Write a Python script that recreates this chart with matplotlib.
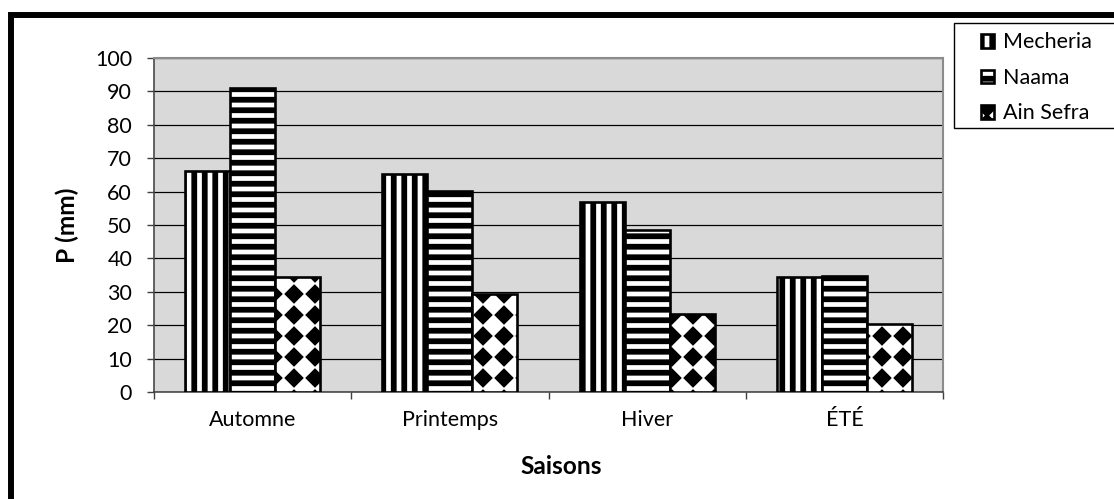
import numpy as np
import matplotlib
matplotlib.use('Agg')
import matplotlib.pyplot as plt
import matplotlib.hatch as mhatch
from matplotlib.path import Path
from matplotlib.patches import Rectangle
from matplotlib.ticker import FixedLocator, NullFormatter, FixedFormatter

# ---------------- data ----------------
categories = ['Automne', 'Printemps', 'Hiver', 'ÉTÉ']
series_names = ['Mecheria', 'Naama', 'Ain Sefra']
mecheria = [66.2, 65.2, 57.0, 34.5]
naama = [91.1, 60.1, 48.6, 34.6]
ain_sefra = [34.3, 29.2, 23.3, 20.4]
yticks = list(range(0, 101, 10))
ylabel = 'P (mm)'
xlabel = 'Saisons'


# ---------------- custom diamond hatch (replaces '*') ----------------
class DiamondGrid(mhatch.HatchPatternBase):
    def __init__(self, hatch, density):
        self.n = int(hatch.count('*') * density)
        self.num_vertices = 5 * (self.n + 1) ** 2 if self.n else 0

    def set_vertices_and_codes(self, vertices, codes):
        n = self.n
        r = 0.068
        shape = np.array([[0, -r], [r, 0], [0, r], [-r, 0], [0, -r]])
        scodes = np.array([Path.MOVETO, Path.LINETO, Path.LINETO,
                           Path.LINETO, Path.CLOSEPOLY], dtype=Path.code_type)
        parts = []
        for i in range(n + 1):
            for j in range(n + 1):
                parts.append(shape + [i / n, j / n])
        vertices[:] = np.concatenate(parts)
        codes[:] = np.tile(scodes, (n + 1) ** 2)


mhatch._hatch_types = [DiamondGrid if c is mhatch.Stars else c
                       for c in mhatch._hatch_types]

# ---------------- figure ----------------
DPI = 126
W, H = 1114, 499
plt.rcParams['font.family'] = ['Lato', 'DejaVu Sans']
plt.rcParams['hatch.linewidth'] = 3.3
plt.rcParams['hatch.color'] = 'black'

fig = plt.figure(figsize=(W / DPI, H / DPI), dpi=DPI)
fig.patch.set_facecolor('white')

ax = fig.add_axes([154 / W, 1 - 392 / H, (943 - 154) / W, (392 - 58) / H])
ax.set_facecolor('#D9D9D9')

x = np.arange(len(categories))
bw = 0.228
hatches = ['||', '--', '*']
series = [mecheria, naama, ain_sefra]
handles = []
for k, (vals, name, h) in enumerate(zip(series, series_names, hatches)):
    bars = ax.bar(x + (k - 1) * bw, vals, width=bw, color='white',
                  edgecolor='black', linewidth=1.5, hatch=h, label=name,
                  zorder=3)
    if h == '*':
        for b in bars:
            if hasattr(b, 'set_hatch_linewidth'):
                b.set_hatch_linewidth(1.0)
    handles.append(bars)

ax.set_xlim(-0.5, len(categories) - 0.5)
ax.set_ylim(0, 100)
ax.set_yticks(yticks)
ax.yaxis.grid(True, color='black', linewidth=0.7)
ax.set_axisbelow(True)

# x ticks: marks at category boundaries, labels at centers
ax.xaxis.set_major_locator(FixedLocator(np.arange(-0.5, len(categories), 1.0)))
ax.xaxis.set_major_formatter(NullFormatter())
ax.xaxis.set_minor_locator(FixedLocator(x))
ax.xaxis.set_minor_formatter(FixedFormatter(categories))
ax.tick_params(axis='x', which='major', direction='out', length=4,
               width=0.8, color='#404040')
ax.tick_params(axis='x', which='minor', length=0, pad=10, labelsize=12.3)
ax.tick_params(axis='y', direction='out', length=4, width=0.8,
               color='#404040', pad=8.5, labelsize=12.3)

for s in ['top', 'right']:
    ax.spines[s].set_color('#8C8C8C')
    ax.spines[s].set_linewidth(1.2)
for s in ['left', 'bottom']:
    ax.spines[s].set_color('#404040')
    ax.spines[s].set_linewidth(0.9)

fig.text(67 / W, 1 - 225 / H, ylabel, rotation=90, ha='center', va='center',
         fontsize=14, fontweight='bold')
fig.text(561 / W, 1 - 466 / H, xlabel, ha='center', va='center',
         fontsize=14, fontweight='bold')

# outer frame
fig.patches.append(Rectangle((11 / W, -0.2), 1.2, 1.2 - 15 / H,
                             transform=fig.transFigure, fill=False,
                             edgecolor='black', linewidth=3.4))
# legend box
fig.patches.append(Rectangle((954 / W, 1 - 128 / H), 0.2, (128 - 23) / H,
                             transform=fig.transFigure, fill=True,
                             facecolor='white', edgecolor='black',
                             linewidth=0.8, zorder=5))

leg = fig.legend(handles=handles, labels=series_names, loc='upper left',
                 bbox_to_anchor=(981 / W, 1 - 32.5 / H), frameon=False,
                 borderpad=0, handlelength=0.6, handleheight=0.6,
                 handletextpad=0.4, labelspacing=0.72, fontsize=12.3,
                 borderaxespad=0)
leg.set_zorder(6)

fig.savefig('out.png', dpi=DPI)
